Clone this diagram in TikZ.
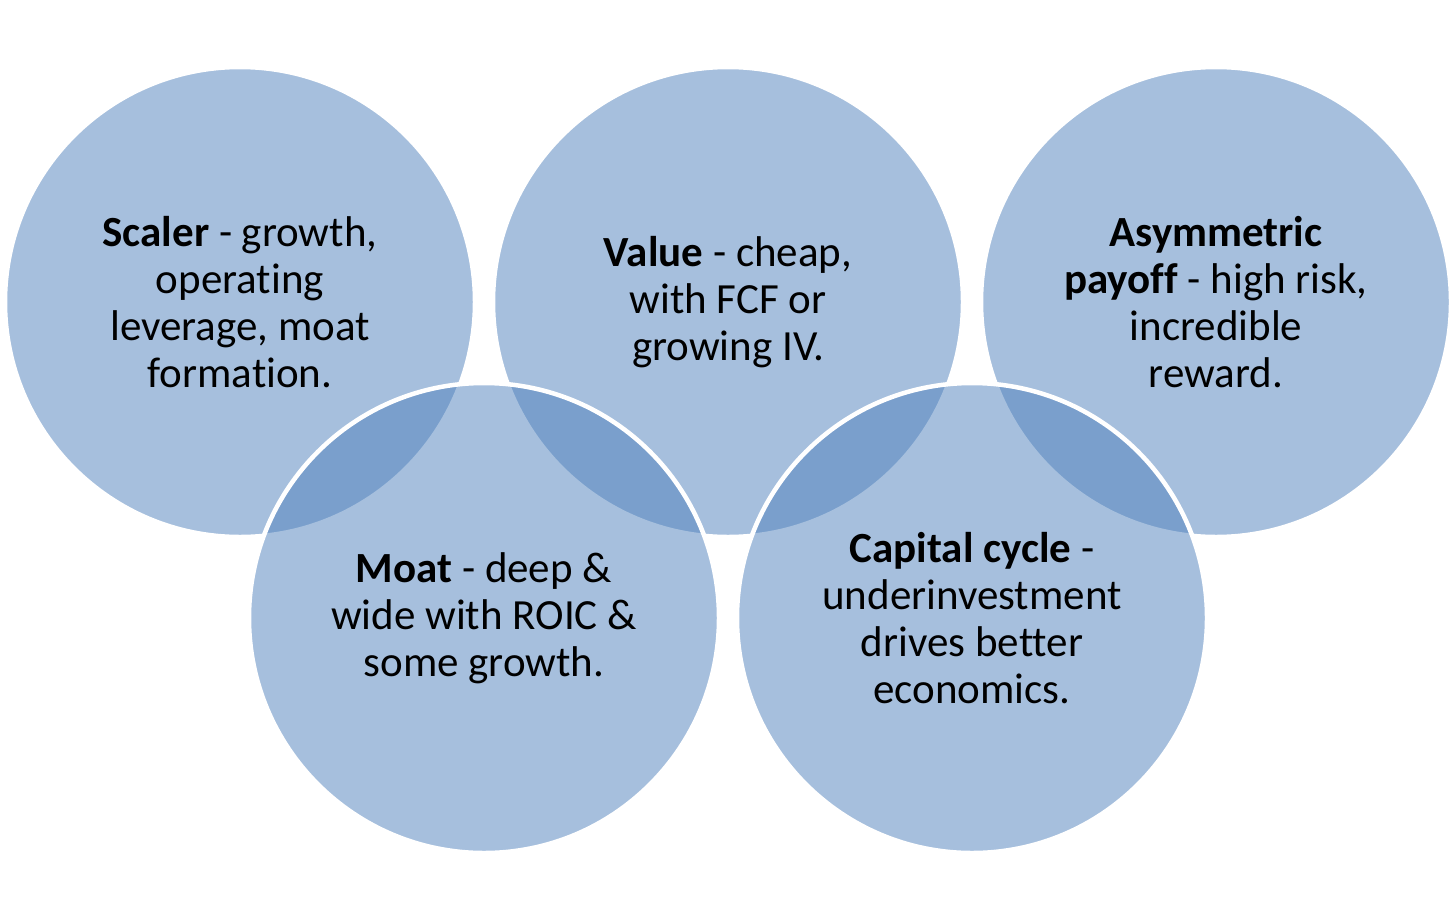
\documentclass[tikz,border=0pt]{standalone}
\usepackage{fontspec}
\setmainfont{Carlito}[Ligatures=NoCommon]
\definecolor{accent}{HTML}{4F81BD}
\begin{document}
\begin{tikzpicture}[x=1pt,y=-1pt,
  ring/.style={circle, minimum size=470pt, inner sep=0pt, fill=accent, fill opacity=0.5, draw=white, line width=4.5pt},
  label/.style={align=center, text=black, font=\fontsize{43}{47}\selectfont}]
\useasboundingbox[fill=white] (0,0) rectangle (1456,921);
\node[ring] (c1) at (240,302) {};
\node[ring] (c2) at (728,302) {};
\node[ring] (c3) at (1216,302) {};
\node[ring] (c4) at (484,618) {};
\node[ring] (c5) at (972,618) {};
\node[label] (t1) at (c1.center) {\textbf{Scaler} - growth,\\operating\\leverage, moat\\formation.};
\node[label] (t2) at (c2.center) {\textbf{Value} - cheap,\\with FCF or\\growing IV.};
\node[label] (t3) at (c3.center) {\textbf{Asymmetric}\\\textbf{payoff} - high risk,\\incredible\\reward.};
\node[label] (t4) at (c4.center) {\textbf{Moat} - deep \&\\wide with ROIC \&\\some growth.};
\node[label] (t5) at (c5.center) {\textbf{Capital cycle} -\\underinvestment\\drives better\\economics.};
\end{tikzpicture}
\end{document}
